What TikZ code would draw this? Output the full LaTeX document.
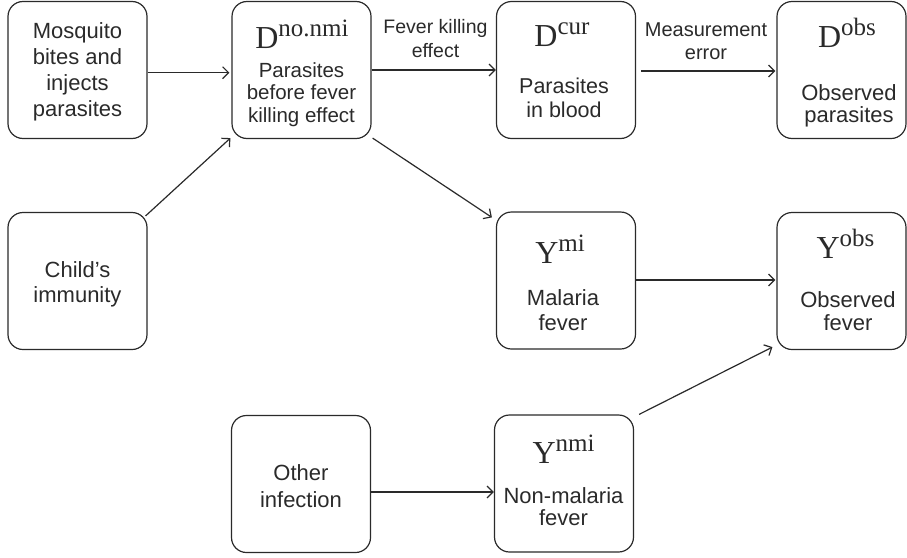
\documentclass[tikz,border=0pt]{standalone}
\usepackage{fontspec}
\setmainfont{Liberation Sans}
\newfontfamily\vserif{Liberation Serif}
\usetikzlibrary{arrows.meta}
\definecolor{ink}{HTML}{2A2A2A}
\newcommand{\vlab}[2]{{\vserif\fontsize{32}{32}\selectfont #1}\raisebox{12pt}{\vserif\fontsize{25}{25}\selectfont #2}}
\begin{document}
\begin{tikzpicture}[x=1pt,y=-1pt,
  box/.style={draw=ink,line width=1.2pt,rounded corners=15pt,minimum width=139pt,minimum height=137pt,inner sep=0pt},
  rbox/.style={box,minimum width=129pt},
  txt/.style={text=ink,inner sep=0pt,align=center,anchor=base},
  arr/.style={draw=ink,line width=1.2pt,-{Straight Barb[length=6pt,width=12pt,line width=1.2pt]}}
]
\useasboundingbox (0,0) rectangle (907,557);
% boxes
\node[box]  (b1) at (77.5,70) {};
\node[box]  (b2) at (301.5,70) {};
\node[box]  (b3) at (566,70) {};
\node[rbox] (b4) at (841.5,70) {};
\node[box]  (b5) at (77.5,281) {};
\node[box]  (b6) at (566,280.5) {};
\node[rbox] (b7) at (841.5,281) {};
\node[box]  (b8) at (301,484) {};
\node[box]  (b9) at (564,483.5) {};
% variable labels
\node[txt] (v2) at (302,48) {\vlab{D}{no.nmi}};
\node[txt] (v3) at (562,46) {\vlab{D}{cur}};
\node[txt] (v4) at (847,47) {\vlab{D}{obs}};
\node[txt] (v6) at (560,263) {\vlab{Y}{mi}};
\node[txt] (v7) at (845.5,258) {\vlab{Y}{obs}};
\node[txt] (v9) at (563.5,463) {\vlab{Y}{nmi}};
% texts (anchored at the baseline of the last line)
\node[txt,font=\fontsize{22}{26.1}\selectfont] (t1) at (77.5,116.7) {Mosquito\\bites and\\injects\\parasites};
\node[txt,font=\fontsize{20.5}{22.5}\selectfont] (t2) at (301.5,122) {Parasites\\before fever\\killing effect};
\node[txt,font=\fontsize{21.5}{24}\selectfont] (t3) at (564,117) {Parasites\\in blood};
\node[txt,font=\fontsize{22}{22.5}\selectfont] (t4) at (849,122.5) {Observed\\parasites};
\node[txt,font=\fontsize{22}{25}\selectfont] (t5) at (77.5,302) {Child’s\\immunity};
\node[txt,font=\fontsize{22}{25}\selectfont] (t6) at (563,330) {Malaria\\fever};
\node[txt,font=\fontsize{22}{23}\selectfont] (t7) at (848,330) {Observed\\fever};
\node[txt,font=\fontsize{22}{27}\selectfont] (t8) at (301,507) {Other\\infection};
\node[txt,font=\fontsize{22}{22}\selectfont] (t9) at (563.5,525) {Non-malaria\\fever};
% edge labels
\node[txt,font=\fontsize{19.5}{24}\selectfont] (e1) at (435.5,57) {Fever killing\\effect};
\node[txt,font=\fontsize{20}{23}\selectfont] (e2) at (706,59) {Measurement\\error};
% connectors
\draw[arr,shorten >=2pt] (b1.east |- 0,72.7) -- (b2.west |- 0,72.7);
\draw[arr] (b2.east |- 0,70) -- (b3.west |- 0,70);
\draw[arr,shorten <=5pt,shorten >=1pt] (b3.east |- 0,71) -- (b4.west |- 0,71);
\draw[arr] ([shift={(-2,4)}]b5.north east) -- ([shift={(-1,-1)}]b2.south west);
\draw[arr] ([shift={(1,-1)}]b2.south east) -- ([shift={(-4,6)}]b6.north west);
\draw[arr,shorten >=1pt] (b6.east |- 0,280) -- (b7.west |- 0,280);
\draw[arr] (b8.east |- 0,492) -- (b9.west |- 0,492);
\draw[arr] ([shift={(5,0)}]b9.north east) -- ([shift={(-4,-3)}]b7.south west);
\end{tikzpicture}
\end{document}
